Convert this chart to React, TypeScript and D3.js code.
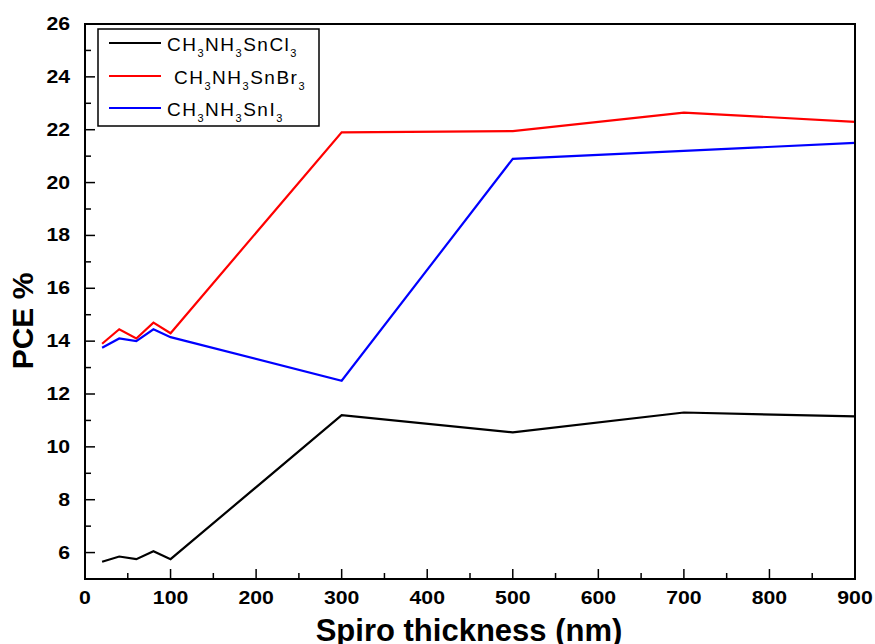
import React from "react";
import * as d3 from "d3";

const thickness = [20, 40, 60, 80, 100, 300, 500, 700, 900];
const cl = [5.65, 5.85, 5.75, 6.05, 5.75, 11.2, 10.55, 11.3, 11.15];
const br = [13.9, 14.45, 14.1, 14.7, 14.3, 21.9, 21.95, 22.65, 22.3];
const iod = [13.75, 14.1, 14.0, 14.45, 14.15, 12.5, 20.9, 21.2, 21.5];
const xTicks = [0, 100, 200, 300, 400, 500, 600, 700, 800, 900];
const yTicks = [6, 8, 10, 12, 14, 16, 18, 20, 22, 24, 26];

const seriesNames = [
  ["CH", "3", "NH", "3", "SnCl", "3"],
  ["CH", "3", "NH", "3", "SnBr", "3"],
  ["CH", "3", "NH", "3", "SnI", "3"],
];
const seriesColors = ["#000000", "#ff0000", "#0000ff"];

export default function App() {
  const W = 875, H = 644;
  const left = 85, right = 855, top = 24, bottom = 579;
  const x = d3.scaleLinear().domain([0, 900]).range([left, right]);
  const y = d3.scaleLinear().domain([5, 26]).range([bottom, top]);
  const line = d3.line<number>().x((_, i) => x(thickness[i])).y((d) => y(d));
  const series = [cl, br, iod];
  const minorX = d3.range(50, 900, 100);
  const minorY = d3.range(5, 26, 2).filter((v) => v > 5);
  const font = "'Liberation Sans', Arial, sans-serif";
  const legendTextX = [167, 174, 167];
  const legendRowY = [43, 76, 108];

  return (
    <svg width={W} height={H} style={{ position: "absolute", left: 0, top: 0 }} fontFamily={font}>
      <rect width={W} height={H} fill="#fff" />
      {series.map((s, k) => (
        <path key={k} d={line(s) || ""} fill="none" stroke={seriesColors[k]} strokeWidth={2.2} />
      ))}
      {/* frame */}
      <rect x={left} y={top} width={right - left} height={bottom - top} fill="none" stroke="#000" strokeWidth={2} />
      {/* x ticks */}
      {xTicks.map((t) => (
        <g key={"x" + t}>
          <line x1={x(t)} x2={x(t)} y1={bottom} y2={bottom - 10} stroke="#000" strokeWidth={1.5} />
          <text transform={`translate(${x(t)},${bottom + 25}) scale(1.18,1)`} textAnchor="middle" fontSize={18} fontWeight="bold">{t}</text>
        </g>
      ))}
      {minorX.map((t) => (
        <line key={"mx" + t} x1={x(t)} x2={x(t)} y1={bottom} y2={bottom - 6} stroke="#000" strokeWidth={1.5} />
      ))}
      {/* y ticks */}
      {yTicks.map((t) => (
        <g key={"y" + t}>
          <line x1={left} x2={left + 10} y1={y(t)} y2={y(t)} stroke="#000" strokeWidth={1.5} />
          <text transform={`translate(70,${y(t) + 6}) scale(1.18,1)`} textAnchor="end" fontSize={18} fontWeight="bold">{t}</text>
        </g>
      ))}
      {minorY.map((t) => (
        <line key={"my" + t} x1={left} x2={left + 6} y1={y(t)} y2={y(t)} stroke="#000" strokeWidth={1.5} />
      ))}
      {/* axis titles */}
      <text x={469} y={641} textAnchor="middle" fontSize={31} fontWeight="bold">Spiro thickness (nm)</text>
      <text transform={`translate(33,${321}) rotate(-90)`} textAnchor="middle" fontSize={30} fontWeight="bold">PCE %</text>
      {/* legend */}
      <rect x={98} y={29} width={221} height={97} fill="#fff" stroke="#000" strokeWidth={1.5} />
      {seriesNames.map((parts, k) => (
        <g key={"lg" + k}>
          <line x1={109} x2={161} y1={legendRowY[k]} y2={legendRowY[k]} stroke={seriesColors[k]} strokeWidth={2} />
          <text x={legendTextX[k]} y={legendRowY[k] + 8} fontSize={19} letterSpacing={1.5}>
            {parts.map((p, i) =>
              i % 2 === 1 ? (
                <tspan key={i} fontSize={11} dy={6}>{p}</tspan>
              ) : (
                <tspan key={i} dy={i === 0 ? 0 : -6}>{p}</tspan>
              )
            )}
          </text>
        </g>
      ))}
    </svg>
  );
}
